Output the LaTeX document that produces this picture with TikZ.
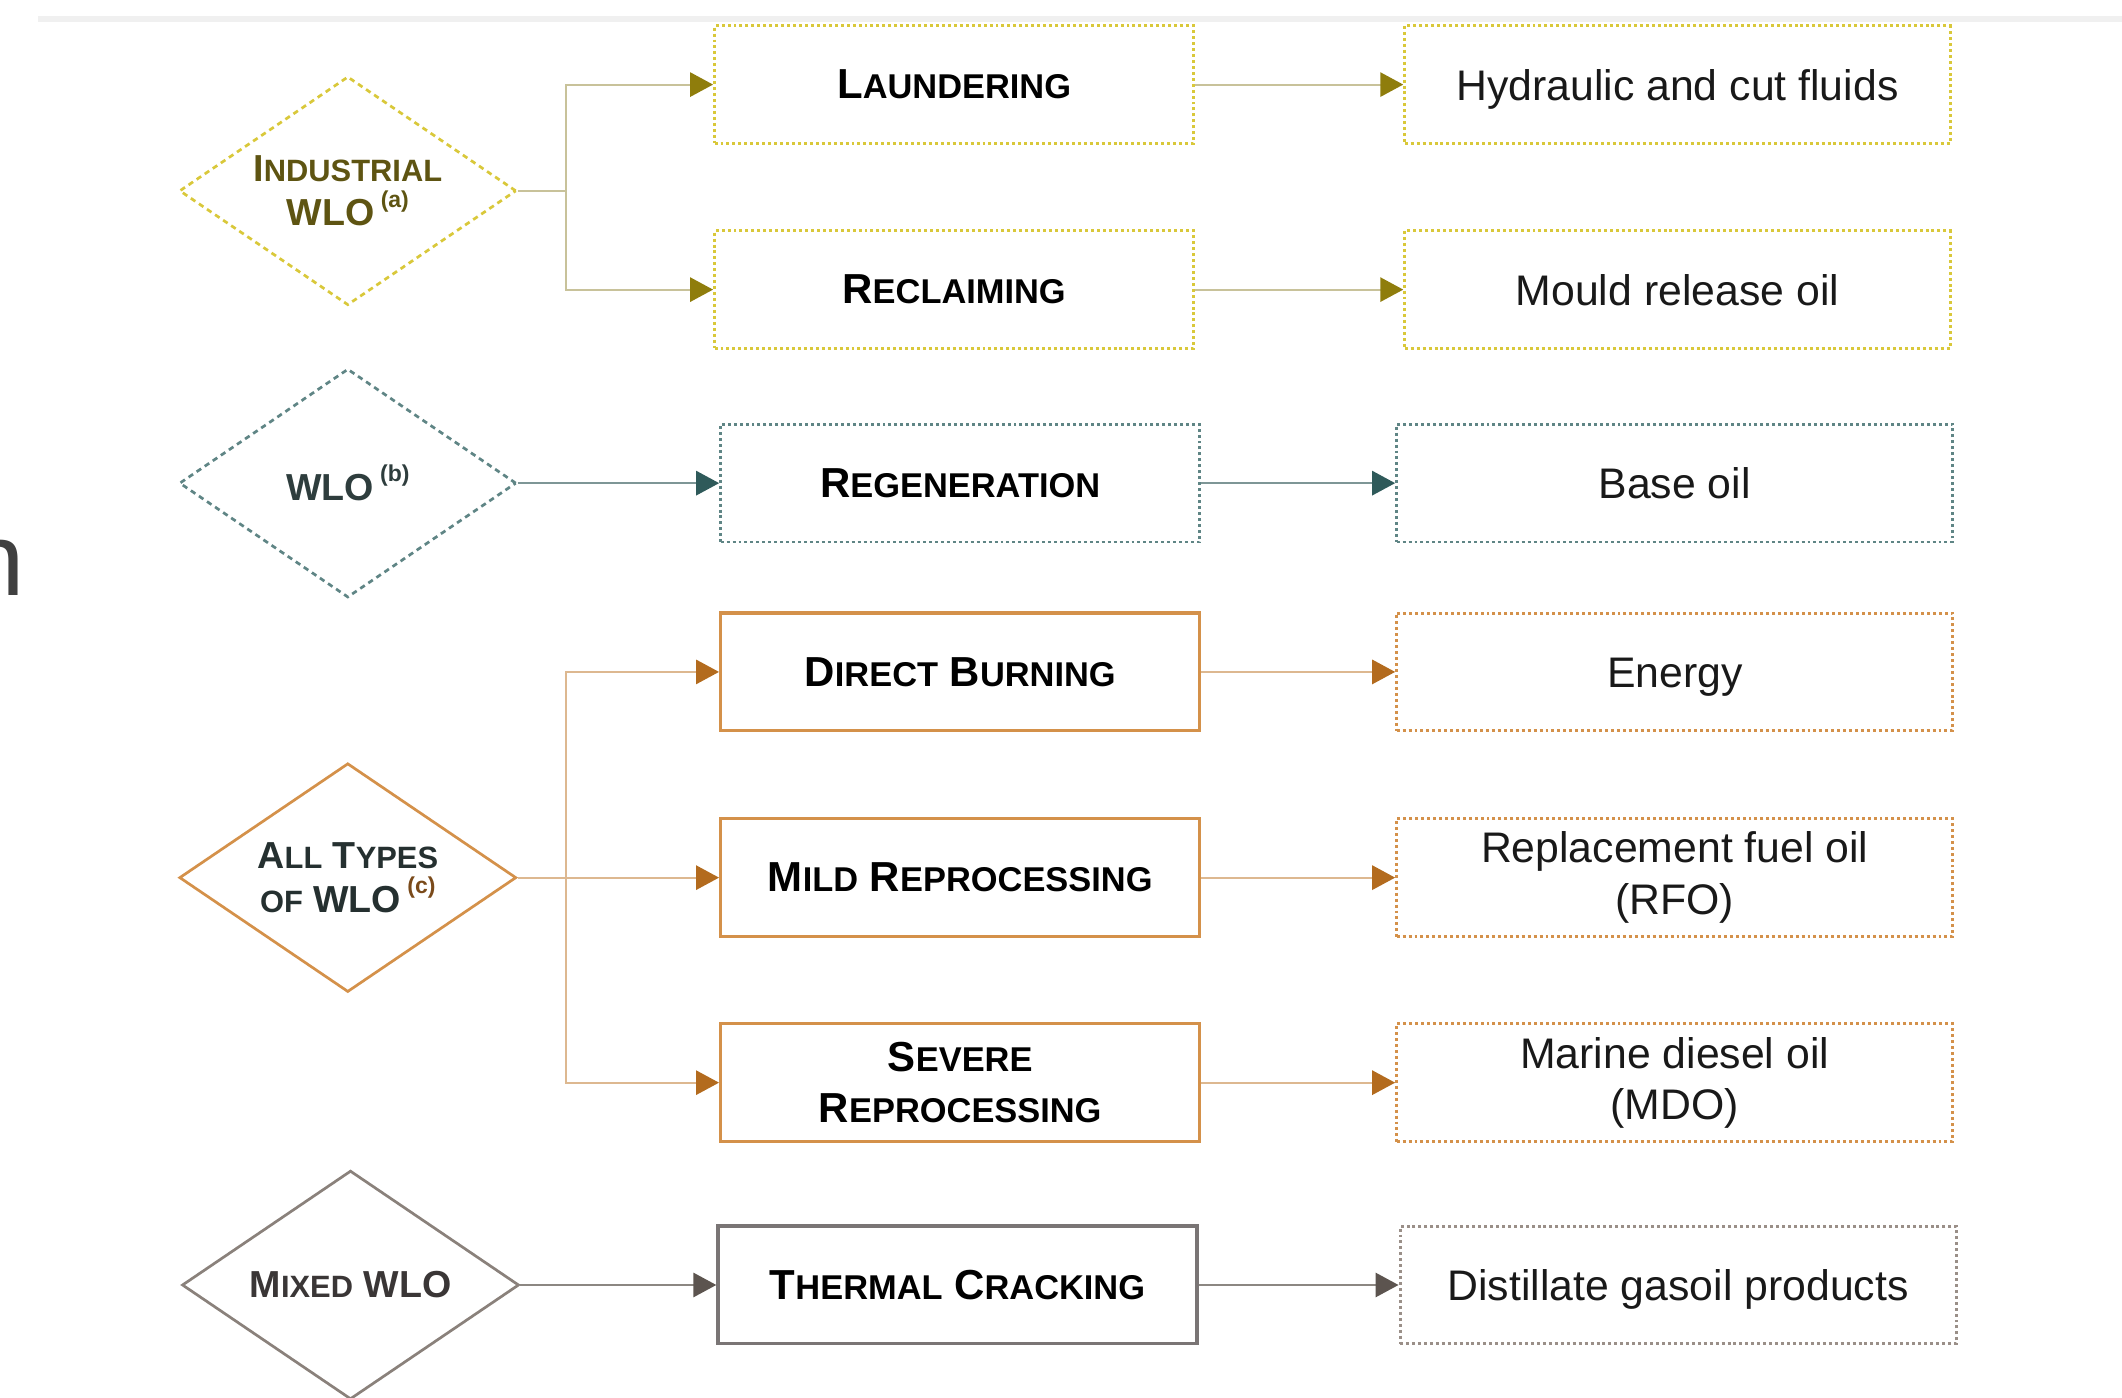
\documentclass[tikz,border=0pt]{standalone}
\usepackage{fontspec}
\setmainfont{Liberation Sans}
\usepackage{graphicx}
\usetikzlibrary{shapes.geometric,arrows.meta,positioning}

\definecolor{indyel}{HTML}{D9C83A}
\definecolor{indtxt}{HTML}{5E5412}
\definecolor{indtip}{HTML}{8F7D0C}
\definecolor{indline}{HTML}{C8C29A}
\definecolor{tealbd}{HTML}{5F8585}
\definecolor{tealtxt}{HTML}{2E3D3D}
\definecolor{tealtip}{HTML}{2F5A5A}
\definecolor{tealline}{HTML}{7E9696}
\definecolor{orbd}{HTML}{D4914A}
\definecolor{ortxt}{HTML}{253030}
\definecolor{orsup}{HTML}{7A4A1A}
\definecolor{ortip}{HTML}{B36B1E}
\definecolor{orline}{HTML}{DDB890}
\definecolor{grbd}{HTML}{8A817B}
\definecolor{grbox}{HTML}{7A7575}
\definecolor{grdot}{HTML}{9A8F88}
\definecolor{grtxt}{HTML}{3A3636}
\definecolor{grtip}{HTML}{5C544F}
\definecolor{grline}{HTML}{8C8782}

% fake small caps: first letter full size, rest scaled down
\newcommand{\kap}[2]{#1\scalebox{0.82}{#2}}
\newcommand{\wlonote}[1]{\,\raisebox{0.5em}{\fontsize{8.5}{10}\selectfont(#1)}}

\tikzset{
  dia/.style={diamond, aspect=1.47, inner sep=0pt, minimum width=124.5pt,
    minimum height=84.5pt, align=center, line width=1pt,
    font=\fontsize{13.9}{16.5}\selectfont\bfseries},
  dashdia/.style={dash pattern=on 2pt off 1.6pt},
  proc/.style={rectangle, minimum width=177pt, minimum height=43.5pt,
    align=center, text=black, font=\fontsize{15.5}{19}\selectfont\bfseries},
  prod/.style={rectangle, minimum width=205.5pt, minimum height=43.5pt,
    align=center, text=black!90, font=\fontsize{15.8}{19}\selectfont},
  capline/.style={text height=11.4pt, text depth=0pt},
  dotbox/.style={line width=1.1pt, dash pattern=on 1.1pt off 1.1pt},
  solidbox/.style={line width=1.2pt},
  flow/.style 2 args={draw=#1, line width=0.7pt,
    -{Triangle[length=8.5pt,width=9pt,color=#2]}},
  link/.style={draw=#1, line width=0.7pt},
}

\begin{document}
\begin{tikzpicture}[x=0.5pt,y=-0.5pt]
\useasboundingbox (0,0) rectangle (1568,1033);
% page edge strip and cut letter at the left border
\fill[gray!12] (28,12) rectangle (1568,16);
\node[anchor=base east, inner sep=0pt, text=black!75,
  font=\fontsize{38}{40}\selectfont] (frag) at (19,440) {n};

% industrial WLO
\node[dia, dashdia, draw=indyel, text=indtxt] (ind) at (257,141)
  {\kap{I}{NDUSTRIAL}\\WLO\wlonote{a}};
\node[proc, dotbox, draw=indyel] (laun) at (705,62.5) {\kap{L}{AUNDERING}};
\node[proc, dotbox, draw=indyel] (recl) at (705,214) {\kap{R}{ECLAIMING}};
\node[prod, capline, dotbox, draw=indyel, minimum width=201.5pt] (hydr) at (1239.5,62.5)
  {Hydraulic and cut fluids};
\node[prod, capline, dotbox, draw=indyel, minimum width=201.5pt] (mould) at (1239.5,214)
  {Mould release oil};
\coordinate (indfork) at (418,141);
\draw[link=indline] (ind.east) -- (indfork);
\draw[flow={indline}{indtip}] (indfork) |- (laun.west);
\draw[flow={indline}{indtip}] (indfork) |- (recl.west);
\draw[flow={indline}{indtip}] (laun) -- (hydr);
\draw[flow={indline}{indtip}] (recl) -- (mould);

% WLO (b)
\node[dia, dashdia, draw=tealbd, text=tealtxt] (wlob) at (257,357) {WLO\wlonote{b}};
\node[proc, dotbox, draw=tealbd] (regen) at (709.5,357) {\kap{R}{EGENERATION}};
\node[prod, capline, dotbox, draw=tealbd] (base) at (1237.5,357) {Base oil};
\draw[flow={tealline}{tealtip}] (wlob) -- (regen);
\draw[flow={tealline}{tealtip}] (regen) -- (base);

% all types of WLO
\node[dia, draw=orbd, text=ortxt] (allw) at (257,648.5)
  {\kap{A}{LL} \kap{T}{YPES}\\\scalebox{0.82}{OF} WLO\textcolor{orsup}{\wlonote{c}}};
\node[proc, solidbox, draw=orbd] (dirb) at (709.5,496.5) {\kap{D}{IRECT} \kap{B}{URNING}};
\node[proc, solidbox, draw=orbd] (mild) at (709.5,648.5) {\kap{M}{ILD} \kap{R}{EPROCESSING}};
\node[proc, solidbox, draw=orbd] (sev) at (709.5,800) {\kap{S}{EVERE}\\\kap{R}{EPROCESSING}};
\node[prod, capline, dotbox, draw=orbd] (energy) at (1237.5,496.5) {Energy};
\node[prod, dotbox, draw=orbd] (rfo) at (1237.5,648.5) {Replacement fuel oil\\(RFO)};
\node[prod, dotbox, draw=orbd] (mdo) at (1237.5,800) {Marine diesel oil\\(MDO)};
\coordinate (allfork) at (418,648.5);
\draw[link=orline] (allw.east) -- (allfork);
\draw[flow={orline}{ortip}] (allfork) |- (dirb.west);
\draw[flow={orline}{ortip}] (allfork) -- (mild.west);
\draw[flow={orline}{ortip}] (allfork) |- (sev.west);
\draw[flow={orline}{ortip}] (dirb) -- (energy);
\draw[flow={orline}{ortip}] (mild) -- (rfo);
\draw[flow={orline}{ortip}] (sev) -- (mdo);

% mixed WLO
\node[dia, draw=grbd, text=grtxt] (mixw) at (259,949.5) {\kap{M}{IXED} WLO};
\node[proc, solidbox, draw=grbox] (therm) at (707.5,949.5) {\kap{T}{HERMAL} \kap{C}{RACKING}};
\node[prod, capline, dotbox, draw=grdot] (dist) at (1240,949.5) {Distillate gasoil products};
\draw[flow={grline}{grtip}] (mixw) -- (therm);
\draw[flow={grline}{grtip}] (therm) -- (dist);
\end{tikzpicture}
\end{document}
